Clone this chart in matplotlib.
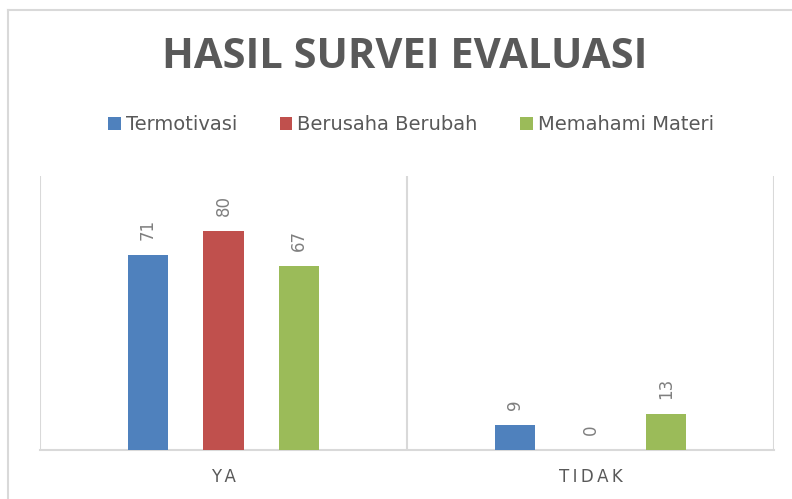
import matplotlib.pyplot as plt
import numpy as np

categories = ['YA', 'TIDAK']
series_names = ['Termotivasi', 'Berusaha Berubah', 'Memahami Materi']
termotivasi = [71, 9]
berusaha_berubah = [80, 0]
memahami_materi = [67, 13]
colors = ['#4f81bd', '#c0504d', '#9bbb59']

grey = '#595959'
light = '#d9d9d9'

fig = plt.figure(figsize=(7.92, 4.99), dpi=100)
ax = fig.add_axes([40 / 792, 49 / 499, 734 / 792, 274 / 499])

x = np.arange(len(categories))
width = 0.109
step = 0.206
all_series = [termotivasi, berusaha_berubah, memahami_materi]
for i, (name, vals) in enumerate(zip(series_names, all_series)):
    bars = ax.bar(x + (i - 1) * step, vals, width, color=colors[i], label=name, zorder=3)
    for b, v in zip(bars, vals):
        ax.annotate(str(v), (b.get_x() + b.get_width() / 2, v),
                    xytext=(0, 11), textcoords='offset points',
                    rotation=90, ha='center', va='bottom',
                    fontsize=12, color='#7f7f7f')

ax.set_xlim(-0.5, 1.5)
ax.set_ylim(0, 100)
ax.set_yticks([])
ax.set_xticks([])
for xv in [-0.5, 0.5, 1.5]:
    ax.axvline(xv, color=light, lw=1.5, zorder=1)
for s in ['top', 'left', 'right']:
    ax.spines[s].set_visible(False)
ax.spines['bottom'].set_color(light)
ax.spines['bottom'].set_linewidth(1.5)

# spaced category labels
for xi, cat in zip(x, categories):
    ax.text(xi, -10, '\u2009'.join(cat), ha='center', va='center',
            fontsize=12, color=grey, transform=ax.transData)

fig.text(405 / 792, 1 - 58 / 499, 'HASIL SURVEI EVALUASI', ha='center', va='center',
         fontsize=30, fontweight='bold', color=grey, family='Open Sans')

fig.legend(loc='center', bbox_to_anchor=(411 / 792, 1 - 125 / 499), ncol=3,
           frameon=False, fontsize=14, handlelength=0.65, handleheight=0.65,
           handletextpad=0.25, columnspacing=2.2, labelcolor=grey)

# outer chart border
fig.add_artist(plt.Line2D([8 / 792, 8 / 792], [0, 1 - 10 / 499], color=light, lw=1.5))
fig.add_artist(plt.Line2D([8 / 792, 1], [1 - 10 / 499, 1 - 10 / 499], color=light, lw=1.5))

fig.savefig('out.png', dpi=100)
